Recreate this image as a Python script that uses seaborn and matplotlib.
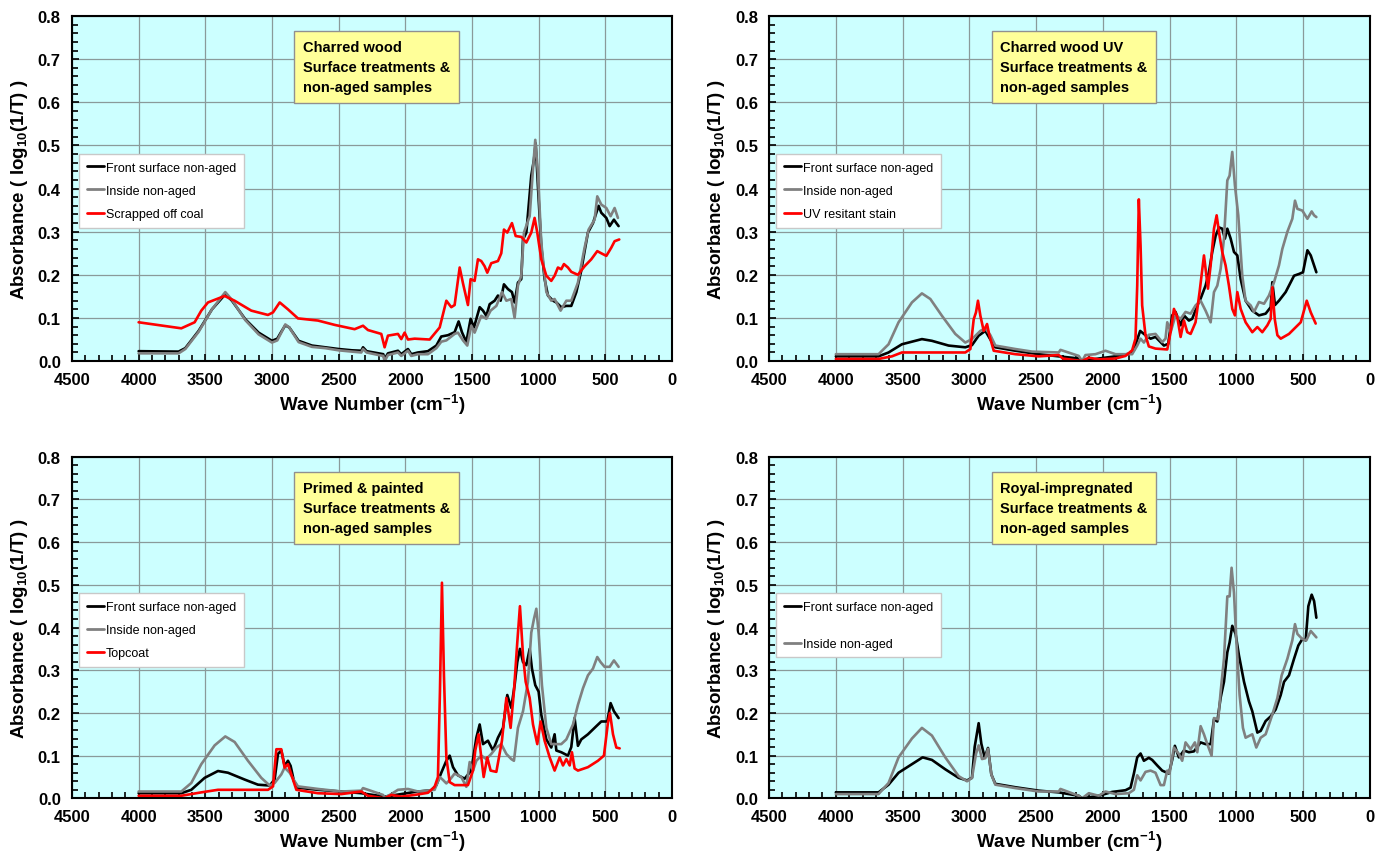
import numpy as np
import pandas as pd
import matplotlib
matplotlib.use('Agg')
import matplotlib.pyplot as plt
from matplotlib.ticker import MultipleLocator
import seaborn as sns

# ---------------- data ----------------
# Panel 1: Charred wood
cw_front_wn = [4000, 3700, 3650, 3550, 3450, 3350, 3300, 3200, 3100, 3000, 2960, 2930, 2900, 2870, 2800, 2700,
               2600, 2500, 2400, 2330, 2317, 2290, 2200, 2165, 2155, 2130, 2055, 2030, 1980, 1955, 1905,
               1830, 1767, 1730, 1680, 1630, 1600, 1575, 1542, 1510, 1485, 1442, 1417, 1392, 1367, 1330,
               1305, 1285, 1260, 1230, 1200, 1180, 1155, 1130, 1117, 1092, 1055, 1035, 1022, 1005, 980,
               955, 930, 892, 867, 830, 792, 755, 717, 680, 655, 630, 592, 567, 550, 530, 492, 467, 435,
               417, 400]
cw_front_ab = [0.023, 0.022, 0.03, 0.07, 0.12, 0.155, 0.14, 0.097, 0.066, 0.047, 0.052, 0.068, 0.083, 0.078,
               0.047, 0.036, 0.032, 0.028, 0.025, 0.024, 0.032, 0.023, 0.018, 0.016, 0.005, 0.018, 0.024,
               0.016, 0.028, 0.016, 0.02, 0.023, 0.036, 0.057, 0.06, 0.067, 0.092, 0.067, 0.044, 0.098,
               0.078, 0.125, 0.117, 0.105, 0.132, 0.14, 0.152, 0.14, 0.178, 0.167, 0.16, 0.136, 0.182,
               0.19, 0.282, 0.298, 0.43, 0.467, 0.505, 0.405, 0.267, 0.19, 0.152, 0.14, 0.136, 0.125,
               0.128, 0.128, 0.16, 0.21, 0.255, 0.298, 0.32, 0.344, 0.36, 0.344, 0.332, 0.313, 0.328,
               0.32, 0.313]
cw_inside_wn = [4000, 3700, 3650, 3550, 3450, 3350, 3300, 3200, 3100, 3000, 2960, 2930, 2900, 2870, 2800, 2700,
                2600, 2500, 2400, 2330, 2317, 2290, 2200, 2165, 2155, 2130, 2055, 2030, 1980, 1955, 1905,
                1830, 1767, 1730, 1692, 1630, 1605, 1567, 1535, 1505, 1480, 1430, 1392, 1360, 1317, 1275,
                1242, 1205, 1180, 1155, 1130, 1110, 1067, 1042, 1025, 1005, 980, 942, 905, 880, 835, 792,
                755, 705, 655, 625, 580, 560, 530, 492, 460, 430, 405]
cw_inside_ab = [0.018, 0.018, 0.028, 0.068, 0.12, 0.16, 0.142, 0.095, 0.062, 0.043, 0.048, 0.066, 0.085, 0.078,
                0.044, 0.033, 0.03, 0.025, 0.022, 0.02, 0.028, 0.02, 0.014, 0.012, 0.0, 0.014, 0.02, 0.012,
                0.024, 0.012, 0.016, 0.016, 0.03, 0.045, 0.048, 0.063, 0.066, 0.048, 0.036, 0.082, 0.066,
                0.105, 0.098, 0.117, 0.128, 0.16, 0.14, 0.144, 0.1, 0.175, 0.198, 0.298, 0.336, 0.446,
                0.513, 0.436, 0.275, 0.16, 0.14, 0.144, 0.117, 0.14, 0.14, 0.182, 0.263, 0.305, 0.328,
                0.382, 0.363, 0.355, 0.336, 0.355, 0.332]
cw_coal_wn = [4000, 3680, 3580, 3530, 3480, 3355, 3280, 3155, 3030, 2992, 2942, 2880, 2805, 2655, 2530, 2380,
              2317, 2280, 2180, 2155, 2130, 2055, 2030, 2005, 1980, 1930, 1817, 1742, 1692, 1655, 1630, 1592,
              1567, 1530, 1510, 1480, 1455, 1430, 1405, 1385, 1355, 1305, 1280, 1260, 1235, 1200, 1172,
              1130, 1092, 1055, 1030, 1010, 980, 942, 905, 880, 855, 830, 810, 780, 755, 705, 655, 605,
              560, 530, 492, 455, 430, 395]
cw_coal_ab = [0.09, 0.076, 0.09, 0.117, 0.136, 0.151, 0.14, 0.117, 0.107, 0.113, 0.136, 0.12, 0.099, 0.094,
              0.084, 0.074, 0.082, 0.072, 0.063, 0.032, 0.059, 0.063, 0.051, 0.066, 0.05, 0.052, 0.05, 0.078,
              0.14, 0.125, 0.13, 0.217, 0.18, 0.13, 0.19, 0.186, 0.236, 0.232, 0.22, 0.205, 0.227, 0.232,
              0.25, 0.305, 0.298, 0.32, 0.29, 0.288, 0.275, 0.298, 0.332, 0.298, 0.236, 0.198, 0.186,
              0.198, 0.217, 0.213, 0.225, 0.217, 0.207, 0.2, 0.22, 0.236, 0.255, 0.25, 0.244, 0.263,
              0.278, 0.282]

# Panel 2: Charred wood UV
uv_front_wn = [4000, 3680, 3605, 3505, 3355, 3280, 3155, 3030, 2980, 2930, 2880, 2842, 2805, 2655, 2480, 2330,
               2180, 2155, 2030, 1905, 1805, 1767, 1742, 1720, 1680, 1642, 1605, 1567, 1542, 1510, 1480,
               1455, 1417, 1392, 1355, 1330, 1292, 1267, 1230, 1205, 1180, 1155, 1130, 1105, 1085, 1067,
               1042, 1017, 992, 967, 930, 880, 830, 780, 742, 730, 710, 680, 630, 567, 530, 500, 467, 442,
               400]
uv_front_ab = [0.011, 0.011, 0.02, 0.039, 0.051, 0.047, 0.036, 0.032, 0.037, 0.059, 0.07, 0.05, 0.032, 0.024,
               0.016, 0.011, 0.006, 0.0, 0.006, 0.011, 0.017, 0.025, 0.05, 0.07, 0.06, 0.052, 0.056, 0.044,
               0.036, 0.04, 0.106, 0.114, 0.083, 0.106, 0.094, 0.098, 0.129, 0.145, 0.175, 0.206, 0.253,
               0.29, 0.31, 0.307, 0.284, 0.307, 0.284, 0.253, 0.245, 0.19, 0.14, 0.117, 0.106, 0.11, 0.125,
               0.183, 0.13, 0.14, 0.16, 0.198, 0.202, 0.206, 0.257, 0.245, 0.206]
uv_inside_wn = [4000, 3680, 3605, 3530, 3430, 3355, 3292, 3205, 3105, 3030, 2980, 2917, 2880, 2842, 2805, 2655,
                2530, 2330, 2317, 2180, 2155, 2130, 2055, 1980, 1905, 1780, 1742, 1717, 1692, 1655, 1605,
                1555, 1530, 1517, 1492, 1455, 1417, 1380, 1342, 1305, 1267, 1230, 1192, 1167, 1142, 1117,
                1092, 1067, 1050, 1030, 1010, 985, 955, 930, 892, 867, 830, 792, 755, 717, 680, 655, 617,
                580, 560, 542, 505, 467, 435, 417, 400]
uv_inside_ab = [0.016, 0.016, 0.039, 0.09, 0.136, 0.157, 0.144, 0.105, 0.063, 0.043, 0.051, 0.07, 0.076, 0.06,
                0.036, 0.028, 0.022, 0.02, 0.026, 0.012, 0.0, 0.014, 0.016, 0.024, 0.016, 0.016, 0.036, 0.052,
                0.043, 0.061, 0.063, 0.044, 0.052, 0.09, 0.067, 0.106, 0.098, 0.114, 0.11, 0.129, 0.14,
                0.117, 0.09, 0.16, 0.175, 0.214, 0.284, 0.419, 0.43, 0.485, 0.407, 0.338, 0.198, 0.14,
                0.129, 0.114, 0.137, 0.133, 0.152, 0.183, 0.222, 0.26, 0.3, 0.33, 0.372, 0.353, 0.349,
                0.33, 0.347, 0.338, 0.334]
uv_stain_wn = [4000, 3680, 3580, 3505, 3280, 3030, 2992, 2967, 2950, 2935, 2917, 2892, 2867, 2850, 2817, 2655,
               2480, 2330, 2300, 2155, 2105, 2030, 1905, 1830, 1780, 1755, 1742, 1730, 1717, 1705, 1680,
               1655, 1605, 1517, 1492, 1467, 1442, 1417, 1392, 1367, 1342, 1305, 1275, 1242, 1212, 1192,
               1167, 1147, 1125, 1105, 1080, 1055, 1030, 1010, 992, 967, 930, 880, 842, 805, 767, 742,
               730, 712, 692, 667, 605, 517, 472, 442, 405]
uv_stain_ab = [0.005, 0.005, 0.011, 0.02, 0.02, 0.02, 0.028, 0.097, 0.113, 0.14, 0.105, 0.07, 0.086, 0.06,
               0.024, 0.016, 0.011, 0.014, 0.006, 0.0, 0.008, 0.004, 0.006, 0.012, 0.025, 0.052, 0.175, 0.375,
               0.268, 0.129, 0.06, 0.034, 0.029, 0.027, 0.067, 0.121, 0.102, 0.056, 0.094, 0.067, 0.063, 0.09,
               0.16, 0.245, 0.168, 0.222, 0.307, 0.338, 0.29, 0.253, 0.222, 0.175, 0.121, 0.106, 0.16,
               0.121, 0.09, 0.067, 0.079, 0.067, 0.083, 0.098, 0.171, 0.098, 0.06, 0.052, 0.063, 0.09,
               0.14, 0.113, 0.087]

# Panel 3: Primed & painted
pp_front_wn = [4000, 3680, 3605, 3505, 3405, 3330, 3205, 3105, 3017, 2980, 2955, 2930, 2905, 2880, 2860, 2835,
               2805, 2655, 2480, 2330, 2155, 2030, 1930, 1805, 1767, 1730, 1692, 1667, 1642, 1605, 1555,
               1505, 1467, 1442, 1417, 1380, 1342, 1305, 1267, 1235, 1205, 1180, 1160, 1140, 1117, 1092,
               1067, 1050, 1025, 1000, 980, 942, 905, 880, 867, 830, 780, 755, 730, 705, 680, 630, 567,
               530, 485, 460, 435, 400]
pp_front_ab = [0.012, 0.012, 0.02, 0.048, 0.064, 0.06, 0.044, 0.032, 0.03, 0.044, 0.104, 0.112, 0.076, 0.088,
               0.076, 0.04, 0.025, 0.02, 0.016, 0.012, 0.004, 0.01, 0.015, 0.019, 0.031, 0.06, 0.088, 0.1,
               0.073, 0.054, 0.046, 0.065, 0.142, 0.173, 0.127, 0.135, 0.112, 0.142, 0.165, 0.242, 0.212,
               0.265, 0.319, 0.35, 0.319, 0.312, 0.35, 0.304, 0.265, 0.25, 0.196, 0.138, 0.119, 0.15,
               0.112, 0.108, 0.1, 0.12, 0.188, 0.123, 0.138, 0.15, 0.169, 0.18, 0.18, 0.223, 0.204, 0.188]
pp_inside_wn = [4000, 3680, 3605, 3530, 3430, 3350, 3280, 3180, 3080, 3017, 2980, 2930, 2905, 2867, 2830, 2805,
                2655, 2480, 2330, 2317, 2167, 2155, 2105, 2055, 1980, 1905, 1780, 1742, 1717, 1692, 1667,
                1630, 1580, 1542, 1517, 1492, 1467, 1430, 1392, 1355, 1317, 1280, 1242, 1205, 1185, 1155,
                1117, 1080, 1055, 1035, 1017, 1000, 975, 942, 905, 867, 830, 792, 742, 705, 667, 630,
                592, 560, 535, 505, 467, 435, 400]
pp_inside_ab = [0.016, 0.016, 0.036, 0.08, 0.124, 0.145, 0.132, 0.088, 0.048, 0.03, 0.036, 0.056, 0.072, 0.06,
                0.04, 0.028, 0.022, 0.016, 0.018, 0.024, 0.008, 0.002, 0.01, 0.02, 0.022, 0.016, 0.02, 0.05,
                0.043, 0.035, 0.043, 0.058, 0.05, 0.027, 0.085, 0.065, 0.088, 0.1, 0.092, 0.104, 0.119,
                0.127, 0.104, 0.092, 0.088, 0.165, 0.204, 0.273, 0.388, 0.42, 0.444, 0.388, 0.265, 0.165,
                0.127, 0.127, 0.127, 0.138, 0.173, 0.219, 0.258, 0.288, 0.304, 0.331, 0.319, 0.308, 0.308,
                0.323, 0.308]
pp_topcoat_wn = [4000, 3680, 3530, 3405, 3030, 2992, 2967, 2930, 2905, 2880, 2855, 2817, 2655, 2480, 2330,
                 2280, 2155, 2105, 2030, 1930, 1830, 1780, 1755, 1740, 1725, 1710, 1692, 1667, 1630, 1530,
                 1492, 1475, 1450, 1430, 1412, 1385, 1360, 1317, 1275, 1242, 1210, 1185, 1160, 1140, 1117,
                 1097, 1067, 1042, 1010, 985, 955, 917, 880, 842, 817, 792, 767, 750, 730, 705, 630, 555,
                 510, 480, 465, 442, 417, 392]
pp_topcoat_ab = [0.006, 0.006, 0.014, 0.02, 0.02, 0.028, 0.115, 0.115, 0.072, 0.08, 0.056, 0.02, 0.012,
                 0.01, 0.016, 0.006, 0.0, 0.008, 0.004, 0.008, 0.013, 0.027, 0.05, 0.25, 0.505, 0.288, 0.096,
                 0.038, 0.031, 0.031, 0.065, 0.112, 0.15, 0.096, 0.05, 0.096, 0.065, 0.062, 0.135, 0.235,
                 0.165, 0.25, 0.365, 0.45, 0.335, 0.273, 0.235, 0.173, 0.127, 0.18, 0.135, 0.096, 0.065,
                 0.096, 0.077, 0.092, 0.077, 0.108, 0.07, 0.065, 0.073, 0.088, 0.1, 0.177, 0.2, 0.15, 0.119,
                 0.117]

# Panel 4: Royal-impregnated
ri_front_wn = [4000, 3680, 3605, 3530, 3430, 3350, 3280, 3180, 3080, 3017, 2980, 2960, 2930, 2910, 2885, 2860,
               2835, 2805, 2655, 2480, 2330, 2180, 2155, 2030, 1930, 1830, 1792, 1767, 1742, 1717, 1692,
               1655, 1630, 1592, 1555, 1505, 1480, 1460, 1430, 1392, 1355, 1317, 1267, 1230, 1192, 1167,
               1142, 1117, 1092, 1067, 1050, 1030, 1005, 980, 942, 905, 880, 842, 817, 780, 742, 705, 667,
               642, 605, 567, 535, 505, 480, 460, 435, 417, 400]
ri_front_ab = [0.014, 0.014, 0.032, 0.06, 0.08, 0.096, 0.09, 0.068, 0.048, 0.042, 0.048, 0.12, 0.176, 0.128,
               0.096, 0.118, 0.056, 0.034, 0.026, 0.018, 0.014, 0.006, 0.0, 0.006, 0.015, 0.019, 0.025,
               0.058, 0.096, 0.105, 0.088, 0.095, 0.09, 0.077, 0.065, 0.058, 0.09, 0.123, 0.096, 0.112,
               0.108, 0.11, 0.131, 0.127, 0.127, 0.185, 0.18, 0.236, 0.273, 0.342, 0.365, 0.404, 0.385,
               0.335, 0.273, 0.227, 0.204, 0.154, 0.158, 0.181, 0.192, 0.208, 0.242, 0.273, 0.288, 0.327,
               0.358, 0.373, 0.37, 0.45, 0.477, 0.462, 0.423]
ri_inside_wn = [4000, 3680, 3605, 3530, 3430, 3355, 3280, 3180, 3080, 3017, 2980, 2950, 2930, 2905, 2880, 2860,
                2835, 2805, 2655, 2480, 2330, 2317, 2180, 2155, 2105, 2030, 1980, 1905, 1805, 1767, 1742,
                1717, 1680, 1642, 1605, 1567, 1542, 1517, 1500, 1467, 1430, 1405, 1380, 1342, 1310, 1292,
                1267, 1242, 1217, 1185, 1167, 1135, 1117, 1092, 1067, 1050, 1035, 1017, 1000, 975, 950,
                930, 905, 880, 850, 817, 780, 730, 692, 660, 617, 580, 560, 542, 505, 475, 442, 400]
ri_inside_ab = [0.01, 0.01, 0.036, 0.096, 0.14, 0.165, 0.147, 0.096, 0.052, 0.04, 0.048, 0.104, 0.124, 0.092,
                0.094, 0.116, 0.056, 0.032, 0.024, 0.016, 0.016, 0.022, 0.006, 0.0, 0.012, 0.006, 0.016,
                0.01, 0.012, 0.02, 0.054, 0.042, 0.062, 0.065, 0.06, 0.031, 0.031, 0.065, 0.058, 0.119,
                0.104, 0.088, 0.131, 0.115, 0.131, 0.108, 0.169, 0.15, 0.127, 0.1, 0.188, 0.185, 0.25,
                0.327, 0.473, 0.473, 0.54, 0.481, 0.373, 0.242, 0.165, 0.142, 0.146, 0.15, 0.119, 0.142,
                0.15, 0.196, 0.235, 0.288, 0.327, 0.37, 0.408, 0.385, 0.373, 0.37, 0.392, 0.377]

panel_titles = ['Charred wood\nSurface treatments &\nnon-aged samples',
                'Charred wood UV\nSurface treatments &\nnon-aged samples',
                'Primed & painted\nSurface treatments &\nnon-aged samples',
                'Royal-impregnated\nSurface treatments &\nnon-aged samples']

panels = [
    [('Front surface non-aged', cw_front_wn, cw_front_ab, 'black'),
     ('Inside non-aged', cw_inside_wn, cw_inside_ab, 'gray'),
     ('Scrapped off coal', cw_coal_wn, cw_coal_ab, 'red')],
    [('Front surface non-aged', uv_front_wn, uv_front_ab, 'black'),
     ('Inside non-aged', uv_inside_wn, uv_inside_ab, 'gray'),
     ('UV resitant stain', uv_stain_wn, uv_stain_ab, 'red')],
    [('Front surface non-aged', pp_front_wn, pp_front_ab, 'black'),
     ('Inside non-aged', pp_inside_wn, pp_inside_ab, 'gray'),
     ('Topcoat', pp_topcoat_wn, pp_topcoat_ab, 'red')],
    [('Front surface non-aged', ri_front_wn, ri_front_ab, 'black'),
     ('Inside non-aged', ri_inside_wn, ri_inside_ab, 'gray')],
]

line_colors = {'black': '#000000', 'gray': '#808080', 'red': '#FF0000'}

# ---------------- plotting ----------------
sns.set_style('white')
plt.rcParams['font.family'] = ['Liberation Sans', 'DejaVu Sans']
plt.rcParams['mathtext.fontset'] = 'custom'
plt.rcParams['mathtext.rm'] = 'Liberation Sans:bold'
plt.rcParams['mathtext.bf'] = 'Liberation Sans:bold'
plt.rcParams['text.color'] = 'black'
plt.rcParams['axes.labelcolor'] = 'black'
plt.rcParams['xtick.color'] = 'black'
plt.rcParams['ytick.color'] = 'black'

fig = plt.figure(figsize=(13.84, 8.54), dpi=100)

# axes rectangles [left, bottom, width, height] in figure fractions
rects = [[0.052, 0.576, 0.4335, 0.404],
         [0.5557, 0.576, 0.4340, 0.404],
         [0.052, 0.064, 0.4335, 0.400],
         [0.5557, 0.064, 0.4340, 0.400]]

for i, (rect, series, title) in enumerate(zip(rects, panels, panel_titles)):
    ax = fig.add_axes(rect)
    ax.set_facecolor('#CCFFFF')
    for name, wn, ab, col in series:
        df = pd.DataFrame({'wn': wn, 'ab': ab})
        sns.lineplot(data=df, x='wn', y='ab', ax=ax, color=line_colors[col], lw=1.9,
                     label=name, estimator=None, sort=False)

    ax.set_xlim(4500, 0)
    ax.set_ylim(0, 0.8)
    ax.xaxis.set_major_locator(MultipleLocator(500))
    ax.xaxis.set_minor_locator(MultipleLocator(100))
    ax.yaxis.set_major_locator(MultipleLocator(0.1))
    ax.yaxis.set_minor_locator(MultipleLocator(0.02))
    ax.grid(True, which='major', color='#8A9A9A', lw=0.9)
    ax.set_axisbelow(True)
    ax.tick_params(axis='both', which='both', bottom=True, left=True, top=False, right=False)
    ax.tick_params(axis='both', which='major', direction='in', length=5, width=1.2,
                   labelsize=12, pad=8, colors='black')
    ax.tick_params(axis='both', which='minor', direction='in', length=4, width=1.2, colors='black')
    for lab in ax.get_xticklabels() + ax.get_yticklabels():
        lab.set_fontweight('bold')
    ax.yaxis.set_major_formatter(matplotlib.ticker.FormatStrFormatter('%.1f'))
    for sp in ax.spines.values():
        sp.set_color('black')
        sp.set_linewidth(1.5)

    ax.set_xlabel('Wave Number (cm$^{-1}$)', fontsize=13.5, fontweight='bold', labelpad=3)
    ax.set_ylabel('Absorbance ( log$_{10}$(1/T) )', fontsize=13.5, fontweight='bold', labelpad=6)

    ax.text(0.385, 0.93, title, transform=ax.transAxes, ha='left', va='top',
            fontsize=10.5, fontweight='bold', linespacing=1.55,
            bbox=dict(boxstyle='square,pad=0.6', facecolor='#FFFF99', edgecolor='#909090', lw=1))

    spacing = 2.0 if len(series) == 2 else 0.9
    leg = ax.legend(loc='upper left', bbox_to_anchor=(0.012, 0.6), fontsize=9,
                    frameon=True, fancybox=False, framealpha=1, edgecolor='#C8C8C8',
                    handlelength=1.4, handletextpad=0.15, labelspacing=spacing,
                    borderpad=0.6, borderaxespad=0)
    leg.get_frame().set_linewidth(1.0)
    for line in leg.get_lines():
        line.set_linewidth(2.0)

fig.savefig('out.png', dpi=100, facecolor='white')
